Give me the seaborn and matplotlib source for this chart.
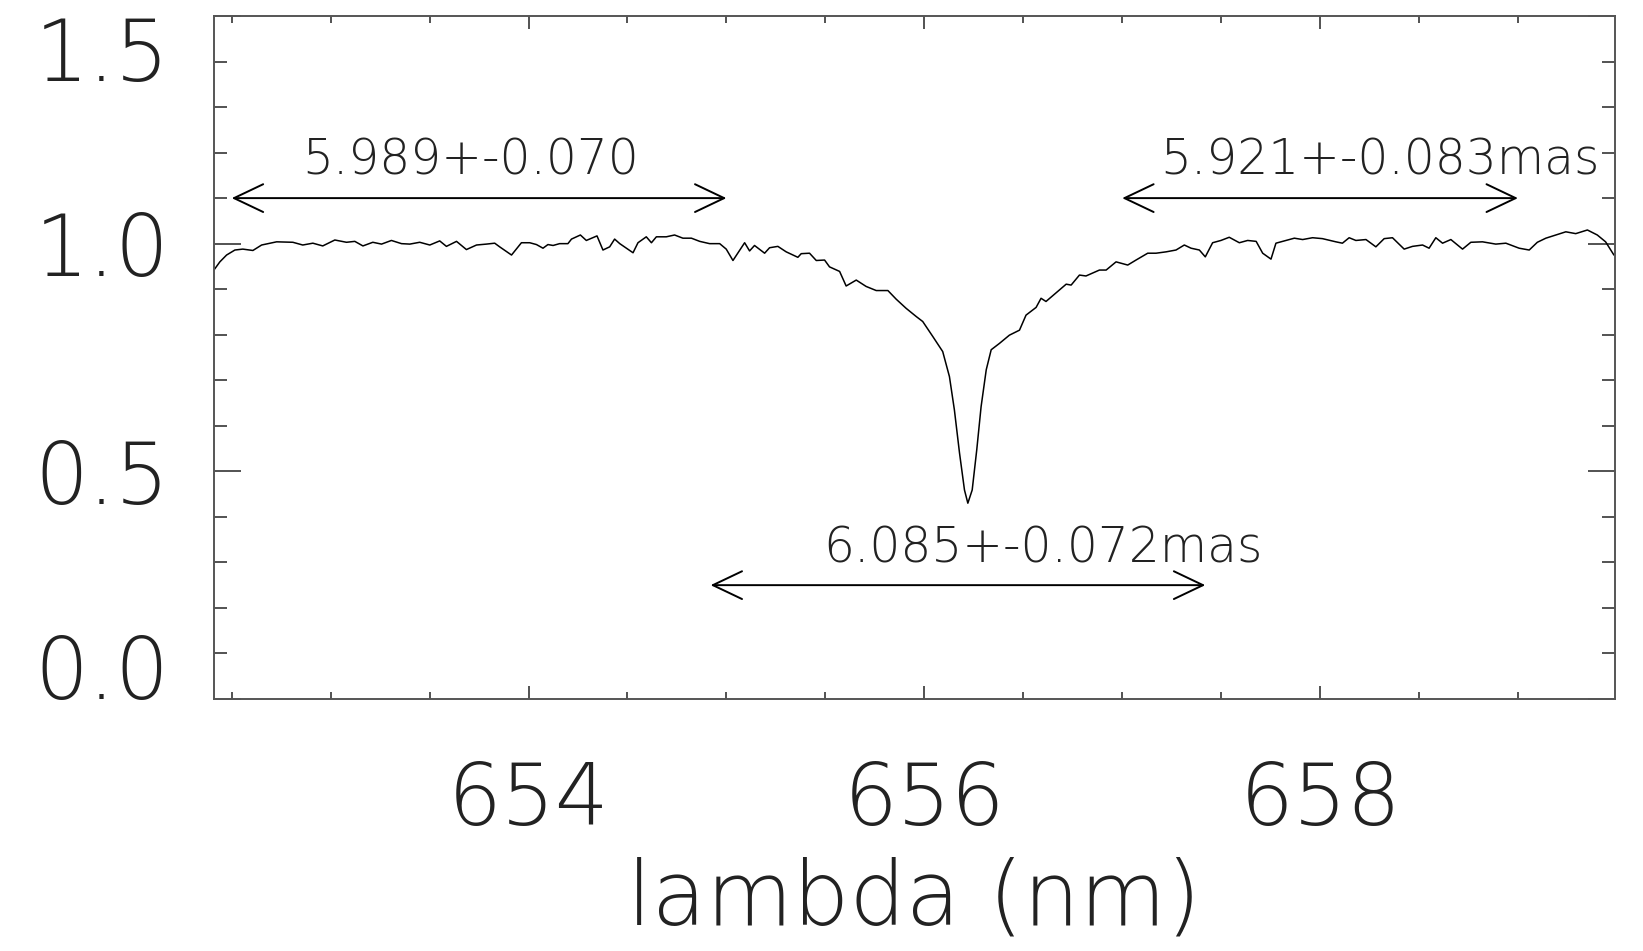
import matplotlib
matplotlib.use("Agg")
import matplotlib.pyplot as plt
from matplotlib import font_manager
from matplotlib.ticker import MultipleLocator
import seaborn as sns

# spectrum (wavelength in nm, normalised flux)
wavelength = [
    652.41, 652.44, 652.474, 652.516, 652.556, 652.607, 652.651, 652.727, 652.809, 652.859,
    652.91, 652.96, 653.021, 653.08, 653.122, 653.163, 653.213, 653.257, 653.307, 653.358,
    653.4, 653.45, 653.501, 653.551, 653.585, 653.636, 653.686, 653.737, 653.787, 653.829,
    653.854, 653.914, 653.964, 654.006, 654.04, 654.073, 654.098, 654.124, 654.157, 654.199,
    654.217, 654.262, 654.292, 654.346, 654.376, 654.41, 654.435, 654.461, 654.528, 654.553,
    654.595, 654.621, 654.646, 654.696, 654.738, 654.78, 654.823, 654.865, 654.915, 654.966,
    654.999, 655.033, 655.092, 655.117, 655.142, 655.193, 655.218, 655.26, 655.302, 655.361,
    655.378, 655.42, 655.454, 655.496, 655.521, 655.572, 655.605, 655.656, 655.706, 655.757,
    655.816, 655.858, 655.908, 655.959, 655.992, 656.043, 656.093, 656.127, 656.152, 656.178,
    656.203, 656.22, 656.242, 656.265, 656.287, 656.313, 656.338, 656.38, 656.43, 656.481,
    656.514, 656.565, 656.59, 656.615, 656.666, 656.717, 656.742, 656.784, 656.817, 656.885,
    656.919, 656.969, 657.028, 657.07, 657.129, 657.171, 657.222, 657.272, 657.314, 657.348,
    657.39, 657.42, 657.457, 657.499, 657.541, 657.592, 657.634, 657.677, 657.71, 657.752,
    657.777, 657.828, 657.87, 657.912, 657.962, 658.012, 658.08, 658.113, 658.147, 658.181,
    658.232, 658.282, 658.324, 658.366, 658.425, 658.467, 658.518, 658.551, 658.585, 658.619,
    658.661, 658.72, 658.762, 658.821, 658.888, 658.939, 659.006, 659.057, 659.098, 659.141,
    659.191, 659.242, 659.292, 659.351, 659.401, 659.443, 659.485,
]
flux = [
    0.942, 0.960, 0.975, 0.986, 0.988, 0.985, 0.997, 1.004, 1.003, 0.997,
    1.001, 0.995, 1.008, 1.003, 1.005, 0.995, 1.003, 0.999, 1.007, 1.000,
    0.999, 1.003, 0.997, 1.006, 0.994, 1.005, 0.987, 0.997, 0.999, 1.001,
    0.993, 0.975, 1.002, 1.002, 0.998, 0.990, 0.998, 0.996, 1.000, 1.000,
    1.010, 1.019, 1.007, 1.017, 0.986, 0.993, 1.010, 1.000, 0.980, 1.002,
    1.015, 1.002, 1.015, 1.015, 1.019, 1.012, 1.012, 1.005, 1.000, 1.000,
    0.988, 0.963, 1.002, 0.984, 0.996, 0.979, 0.991, 0.994, 0.982, 0.970,
    0.978, 0.979, 0.963, 0.964, 0.949, 0.939, 0.907, 0.920, 0.906, 0.897,
    0.897, 0.878, 0.858, 0.840, 0.829, 0.796, 0.763, 0.708, 0.635, 0.540,
    0.459, 0.430, 0.459, 0.547, 0.642, 0.723, 0.767, 0.781, 0.799, 0.810,
    0.843, 0.860, 0.880, 0.873, 0.892, 0.911, 0.909, 0.931, 0.929, 0.942,
    0.942, 0.960, 0.953, 0.964, 0.979, 0.979, 0.982, 0.986, 0.997, 0.990,
    0.986, 0.971, 1.002, 1.007, 1.014, 1.002, 1.007, 1.005, 0.979, 0.966,
    1.001, 1.007, 1.012, 1.009, 1.013, 1.011, 1.004, 1.001, 1.013, 1.007,
    1.009, 0.993, 1.011, 1.013, 0.988, 0.994, 0.997, 0.990, 1.013, 1.001,
    1.009, 0.988, 1.003, 1.004, 0.999, 1.001, 0.990, 0.986, 1.003, 1.012,
    1.019, 1.026, 1.022, 1.030, 1.019, 1.004, 0.975,
]

# measured diameters and the wavelength bands they belong to
band_labels = ["5.989+-0.070", "5.921+-0.083mas", "6.085+-0.072mas"]
band_start = [652.5, 657.0, 654.92]
band_end = [655.0, 659.0, 657.42]
band_level = [1.1, 1.1, 0.25]

x_ticks = [654, 656, 658]
y_ticks = [0.0, 0.5, 1.0, 1.5]

sns.set_style("ticks")

# thin font to mimic the IDL vector font
family, weight = "DejaVu Sans", "normal"
for fam in ["DejaVu Sans", "Open Sans", "Lato", "Roboto", "Inter", "Noto Sans"]:
    w = [f.weight for f in font_manager.fontManager.ttflist
         if f.name == fam and isinstance(f.weight, int) and f.weight < 400]
    if w:
        family, weight = fam, min(w)
        break
plt.rcParams["font.family"] = [family, "DejaVu Sans"]
plt.rcParams["font.weight"] = weight
plt.rcParams["axes.labelweight"] = weight

ink = "#222222"
fig = plt.figure(figsize=(16.43, 9.51), dpi=100)
ax = fig.add_axes([0.1302, 0.2650, 0.8527, 0.7182])

sns.lineplot(x=wavelength, y=flux, ax=ax, color="black", linewidth=1.1,
             sort=False, estimator=None)

ax.set_xlim(652.41, 659.49)
ax.set_ylim(0, 1.5)

ax.set_xticks(x_ticks)
ax.set_xticklabels([str(t) for t in x_ticks])
ax.xaxis.set_minor_locator(MultipleLocator(0.5))
ax.set_yticks(y_ticks)
ax.set_yticklabels([f"{t:.1f}" for t in y_ticks])
ax.yaxis.set_minor_locator(MultipleLocator(0.1))

ax.tick_params(axis="both", which="both", direction="in", top=True, right=True,
               color="#444444", width=1.3, labelcolor=ink)
ax.tick_params(axis="x", which="major", length=9.5, pad=44, labelsize=61)
ax.tick_params(axis="x", which="minor", length=4.7)
ax.tick_params(axis="y", which="major", length=19.5, pad=32, labelsize=61)
ax.tick_params(axis="y", which="minor", length=9.5)

ylabels = ax.get_yticklabels()
ylabels[0].set_va("baseline")
ylabels[-1].set_va("top")

for s in ax.spines.values():
    s.set_color("#555555")
    s.set_linewidth(1.4)

ax.set_xlabel("lambda (nm)", fontsize=64, color=ink, labelpad=10,
              fontweight=weight)
ax.set_ylabel("")

for lab, x0, x1, lev in zip(band_labels, band_start, band_end, band_level):
    ax.annotate("", xy=(x1, lev), xytext=(x0, lev),
                arrowprops=dict(arrowstyle="<->,head_length=21,head_width=10",
                                mutation_scale=1, color="black", lw=1.4,
                                shrinkA=0, shrinkB=0))

# labels sit above the arrows, centred where the original text was
ax.text(653.708, 1.151, band_labels[0], ha="center", va="baseline",
        fontsize=35, color=ink)
ax.text(658.304, 1.151, band_labels[1], ha="center", va="baseline",
        fontsize=35, color=ink, clip_on=False)
ax.text(656.597, 0.299, band_labels[2], ha="center", va="baseline",
        fontsize=35, color=ink)

fig.savefig("out.png", dpi=100)
plt.close(fig)
